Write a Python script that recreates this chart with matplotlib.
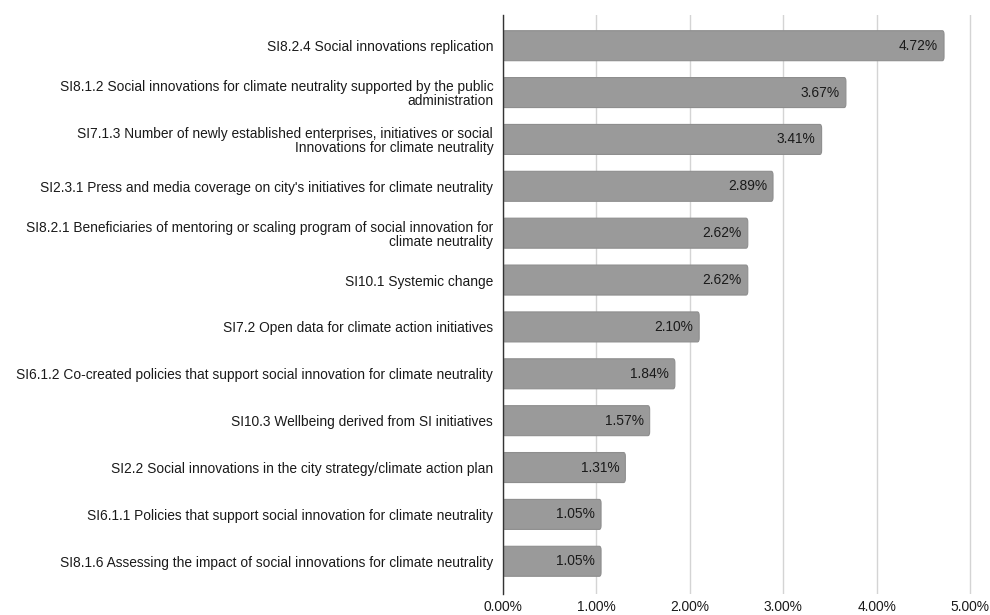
import matplotlib.pyplot as plt
from matplotlib.patches import FancyBboxPatch
from matplotlib.ticker import FuncFormatter

plt.rcParams['font.family'] = ['Liberation Sans', 'DejaVu Sans']

categories = [
    "SI8.2.4 Social innovations replication",
    "SI8.1.2 Social innovations for climate neutrality supported by the public\nadministration",
    "SI7.1.3 Number of newly established enterprises, initiatives or social\nInnovations for climate neutrality",
    "SI2.3.1 Press and media coverage on city's initiatives for climate neutrality",
    "SI8.2.1 Beneficiaries of mentoring or scaling program of social innovation for\nclimate neutrality",
    "SI10.1 Systemic change",
    "SI7.2 Open data for climate action initiatives",
    "SI6.1.2 Co-created policies that support social innovation for climate neutrality",
    "SI10.3 Wellbeing derived from SI initiatives",
    "SI2.2 Social innovations in the city strategy/climate action plan",
    "SI6.1.1 Policies that support social innovation for climate neutrality",
    "SI8.1.6 Assessing the impact of social innovations for climate neutrality",
]
values = [4.72, 3.67, 3.41, 2.89, 2.62, 2.62, 2.10, 1.84, 1.57, 1.31, 1.05, 1.05]
xticks = [0, 1, 2, 3, 4, 5]

FS = 9.9
fig = plt.figure(figsize=(9.9, 6.15), dpi=100)
ax = fig.add_axes([0.508, 0.034, 0.472 * 5.02 / 5.0, 0.942])

bar_h = 0.64
for i, v in enumerate(values):
    box = FancyBboxPatch((0, i - bar_h / 2), v, bar_h,
                         boxstyle="round,pad=0,rounding_size=0.02",
                         facecolor="#9a9a9a", edgecolor="#8e8e8e",
                         linewidth=0.8, zorder=3, mutation_aspect=4)
    ax.add_patch(box)
    ax.text(v - 0.065, i, f"{v:.2f}%", ha="right", va="center",
            fontsize=FS, color="#1a1a1a", zorder=4)

ax.set_xlim(0, 5.02)
ax.set_ylim(len(values) - 1 + 0.7, -0.66)
ax.set_yticks(range(len(values)))
ax.set_yticklabels(categories, fontsize=FS, color="#1a1a1a", linespacing=1.0)
ax.set_xticks(xticks)
ax.xaxis.set_major_formatter(FuncFormatter(lambda x, _: f"{x:.2f}%"))
ax.tick_params(axis="x", labelsize=FS, colors="#1a1a1a", length=0, pad=4)
ax.tick_params(axis="y", length=0, pad=7)
ax.grid(axis="x", color="#d4d4d4", linewidth=1.0, zorder=0)

for side in ["top", "right", "bottom"]:
    ax.spines[side].set_visible(False)
ax.spines["left"].set_color("#333333")
ax.spines["left"].set_linewidth(1.0)
ax.spines["left"].set_zorder(5)

fig.savefig("out.png", dpi=100)
